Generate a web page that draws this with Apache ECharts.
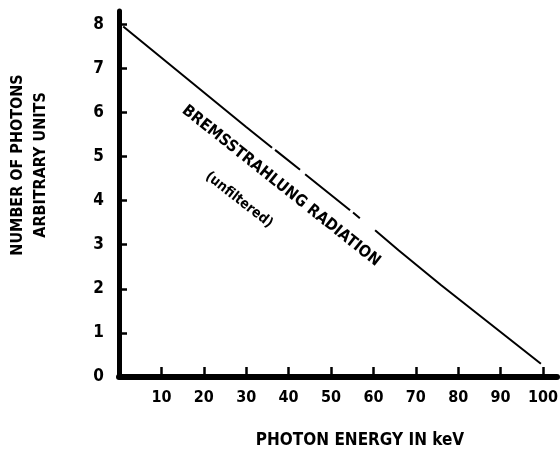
<!DOCTYPE html>
<html>
<head>
<meta charset="utf-8">
<script src="https://cdn.jsdelivr.net/npm/echarts@6/dist/echarts.min.js"></script>
<style>
  html, body { margin: 0; padding: 0; background: #ffffff; }
  #chart { width: 560px; height: 449px; }
</style>
</head>
<body>
<div id="chart"></div>
<script>
  // tick values
  var xTicks = [10, 20, 30, 40, 50, 60, 70, 80, 90, 100];
  var yTicks = [0, 1, 2, 3, 4, 5, 6, 7, 8];

  // bremsstrahlung line (broken where the print has gaps)
  var seg1 = [[1, 7.95], [30, 5.67], [36.1, 5.2]];
  var seg2 = [[36.8, 5.15], [42.7, 4.7]];
  var seg3 = [[43.9, 4.6], [54.5, 3.78]];
  var seg4 = [[55.2, 3.73], [56.8, 3.6]];
  var seg5 = [[60.4, 3.33], [66, 2.87], [76, 2.08], [99.5, 0.3]];

  var lineData = [].concat(seg1, [[null, null]], seg2, [[null, null]], seg3, [[null, null]], seg4, [[null, null]], seg5);

  var font = '"DejaVu Sans Condensed", "Liberation Sans", sans-serif';

  var chart = echarts.init(document.getElementById('chart'));
  var option = {
    animation: false,
    backgroundColor: '#ffffff',
    grid: {left: 119, right: 3, top: 11, bottom: 72, outerBoundsMode: 'none'},
    xAxis: {
      type: 'value',
      min: 0,
      max: 103.3,
      name: 'PHOTON ENERGY IN keV',
      nameLocation: 'middle',
      nameGap: 55,
      nameTextStyle: {
        color: '#000', fontFamily: font, fontWeight: 'bold', fontSize: 17,
        padding: [0, 0, 0, 44]
      },
      axisLine: {show: true, onZero: false, lineStyle: {color: '#000', width: 6}},
      axisTick: {show: true, inside: true, length: 10, customValues: xTicks, lineStyle: {color: '#000', width: 2.5}},
      axisLabel: {
        customValues: xTicks, margin: 13,
        color: '#000', fontFamily: font, fontWeight: 'bold', fontSize: 16
      },
      splitLine: {show: false}
    },
    yAxis: {
      type: 'value',
      min: 0,
      max: 8.3,
      name: 'NUMBER OF PHOTONS\nARBITRARY UNITS',
      nameLocation: 'middle',
      nameRotate: 90,
      nameGap: 67,
      nameTextStyle: {
        color: '#000', fontFamily: font, fontWeight: 'bold', fontSize: 16, lineHeight: 23,
        padding: [0, 0, 0, 58]
      },
      axisLine: {show: true, onZero: false, lineStyle: {color: '#000', width: 5}},
      axisTick: {show: true, inside: true, length: 8, customValues: yTicks, lineStyle: {color: '#000', width: 2.5}},
      axisLabel: {
        customValues: yTicks, margin: 15,
        color: '#000', fontFamily: font, fontWeight: 'bold', fontSize: 17
      },
      splitLine: {show: false}
    },
    graphic: [
      {
        type: 'text', x: 281, y: 186, rotation: -38.5 * Math.PI / 180,
        style: {
          text: 'BREMSSTRAHLUNG RADIATION', fill: '#000',
          font: 'bold 16px "DejaVu Sans Condensed", "Liberation Sans", sans-serif',
          textAlign: 'center', textVerticalAlign: 'middle'
        }
      },
      {
        type: 'text', x: 239, y: 200, rotation: -38 * Math.PI / 180,
        style: {
          text: '(unfiltered)', fill: '#000',
          font: 'bold 14px "DejaVu Sans Condensed", "Liberation Sans", sans-serif',
          textAlign: 'center', textVerticalAlign: 'middle'
        }
      }
    ],
    series: [
      {
        type: 'line',
        data: lineData,
        connectNulls: false,
        showSymbol: false,
        symbol: 'none',
        lineStyle: {color: '#000', width: 2}
      }
    ]
  };
  chart.setOption(option);
</script>
</body>
</html>
